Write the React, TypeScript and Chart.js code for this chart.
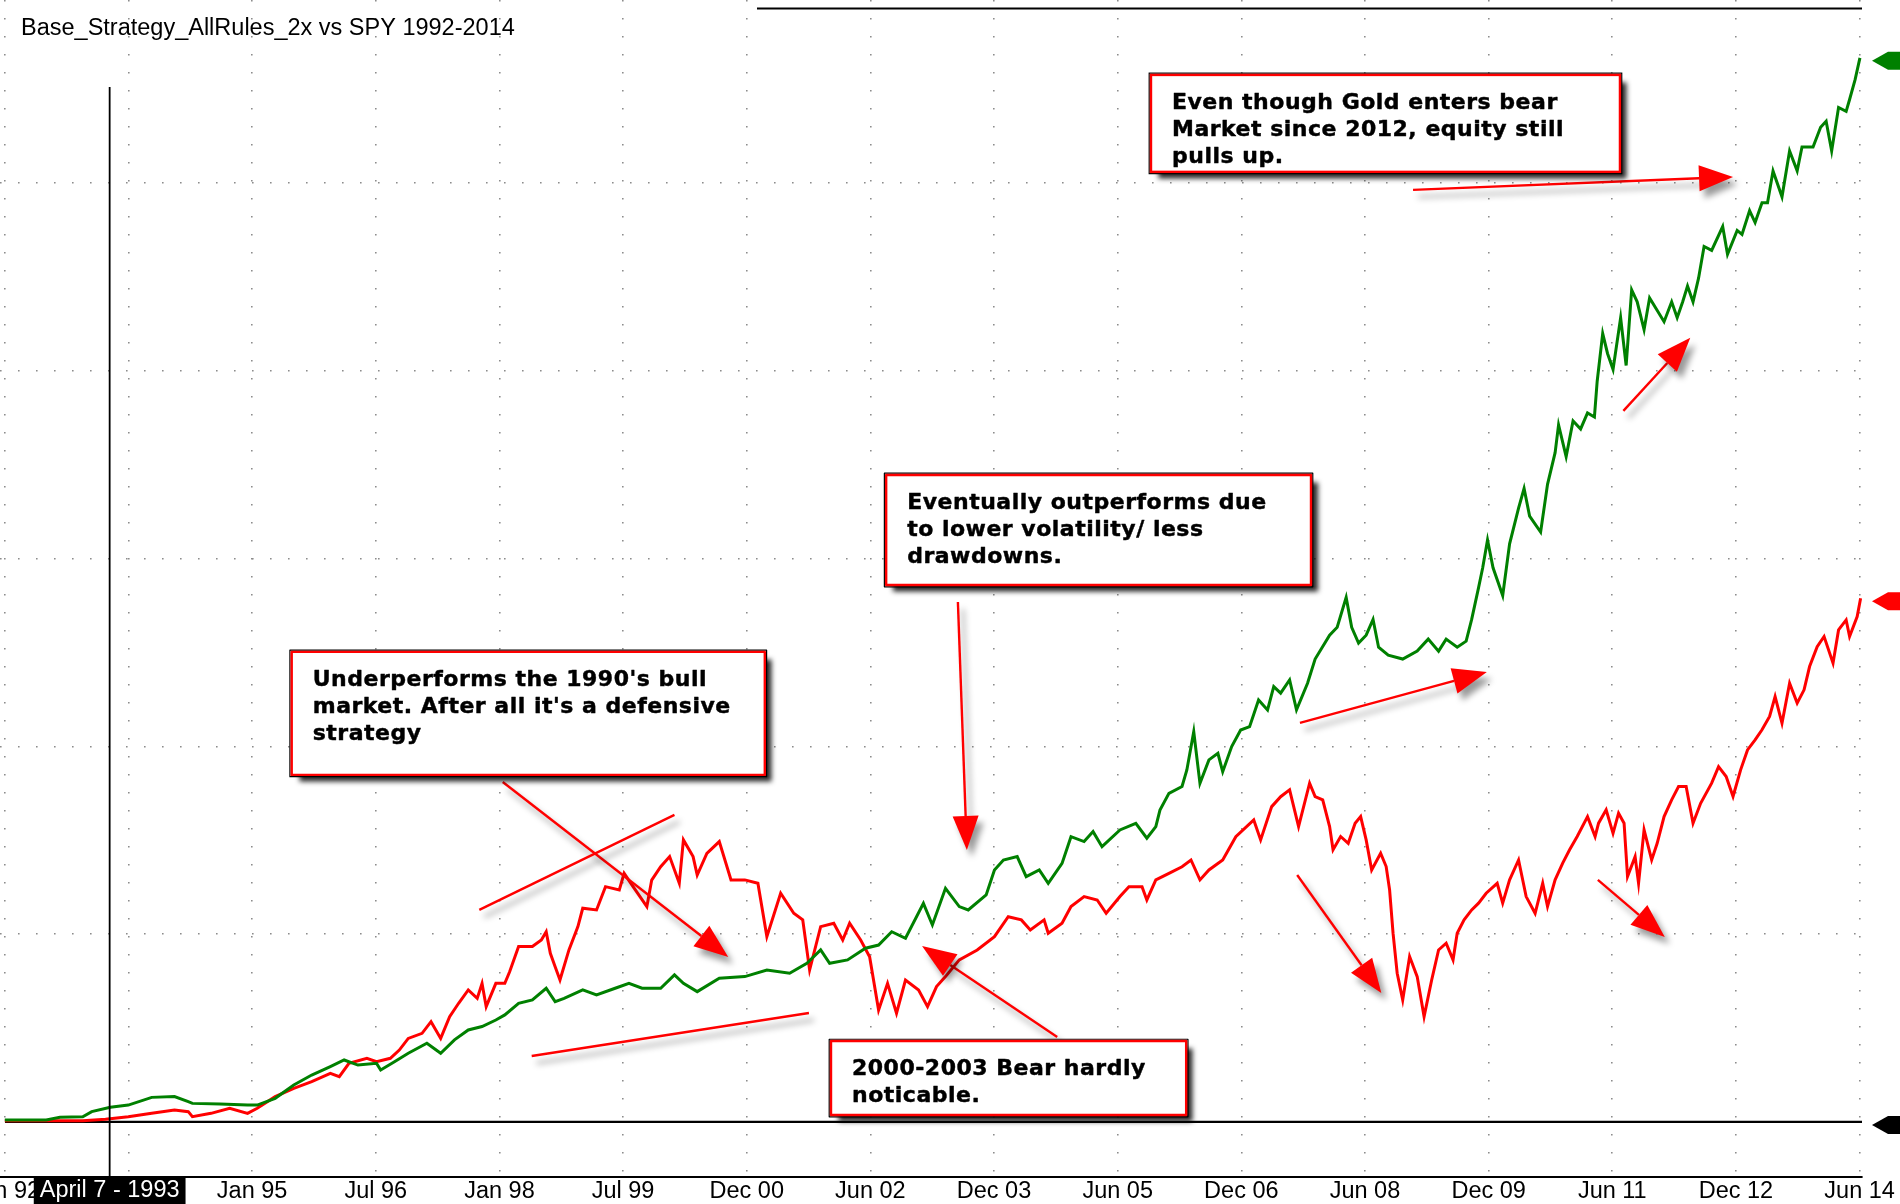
import { useEffect, useRef } from "react";
import { Chart, registerables } from "chart.js";

Chart.register(...registerables);

// x = months since Jan 1992, y = equity gain (one grid step = 100)
const TITLE = "Base_Strategy_AllRules_2x vs SPY 1992-2014";

const tickLabels = [
  "Jan 92", "Jul 93", "Jan 95", "Jul 96", "Jan 98", "Jul 99", "Dec 00", "Jun 02",
  "Dec 03", "Jun 05", "Dec 06", "Jun 08", "Dec 09", "Jun 11", "Dec 12", "Jun 14",
];
const TICK_STEP = 17.93; // bar-count spacing of the date labels, in months
const gridValues = [0, 100, 200, 300, 400, 500];

const cursorMonth = 15.2;
const cursorLabel = "April 7 - 1993";

const strategy1992 = [
  [0, 1.1], [6, 1.1], [8, 2.5], [11.3, 2.8], [12.6, 5.5], [15.3, 7.8], [17.9, 9.0], [21.3, 13.1],
  [24.6, 13.5], [26.6, 10.8], [27.2, 9.9], [31.2, 9.6], [35.2, 9.0], [36.6, 9.0], [39.2, 12.6],
  [41.9, 19.7], [44.5, 25.0], [47.2, 29.5], [49.2, 33.0], [51.2, 30.3], [53.9, 31.2], [54.5, 27.7],
  [56.5, 32.1], [58.5, 36.6], [61.2, 41.9], [63.2, 36.6], [65.2, 43.7], [67.2, 49.0], [69.2, 50.8],
  [71.2, 54.3], [72.5, 57.0], [74.5, 63.2], [76.5, 65.0], [78.5, 71.2], [79.8, 64.1], [81.1, 65.8],
  [83.8, 70.3], [85.8, 67.6], [88.5, 71.2], [90.5, 73.8], [92.4, 71.2], [95.1, 71.2], [97.1, 78.3],
  [98.4, 73.8], [100.4, 69.4], [103.6, 76.5],
];
const strategy2001 = [
  [107.3, 77.4], [110.5, 80.9], [113.8, 79.2], [116.3, 84.5], [118.3, 91.6], [119.6, 84.5],
  [122.2, 86.3], [124.8, 92.5], [126.7, 94.2], [128.6, 101.3], [130.6, 97.8], [133.2, 116.4],
  [134.5, 104.9], [136.4, 124.4], [138.4, 114.7], [139.7, 112.9], [142.3, 120.9], [143.5, 134.2],
  [144.8, 139.5], [146.8, 141.3], [148.1, 130.6], [150.0, 134.2], [151.3, 127.1], [153.3, 137.7],
  [154.6, 151.9], [156.5, 149.3], [157.8, 154.6], [159.1, 146.6], [161.7, 155.5], [164.0, 159.0],
  [165.6, 151.1], [166.9, 157.3], [167.5, 166.1], [168.8, 175.0], [170.7, 178.6], [171.4, 187.4],
  [172.4, 207.8], [173.3, 180.3], [174.6, 192.8], [175.9, 196.3], [176.6, 186.5], [177.9, 199.9],
  [179.2, 208.7], [180.5, 210.5], [181.8, 224.7], [183.1, 219.4], [184.0, 231.8], [185.0, 228.3],
  [186.3, 235.4], [187.3, 219.4], [188.9, 233.6],
];
const strategy2007 = [
  [190.0, 246.5], [192.1, 259.2], [193.2, 263.4], [194.5, 279.3], [195.3, 263.4], [196.3, 255.0],
  [197.4, 259.2], [198.4, 267.6], [199.2, 252.8], [200.6, 248.6], [202.7, 246.5], [204.8, 250.7],
  [206.4, 257.1], [207.9, 250.7], [209.0, 257.1], [210.6, 252.8], [211.9, 256.0], [212.7, 267.6],
  [213.7, 284.5], [214.3, 295.1], [215.0, 309.9], [215.8, 295.1], [217.2, 280.3], [218.2, 307.8],
  [219.5, 326.8], [220.3, 337.3], [221.1, 322.6], [222.7, 314.1], [223.7, 339.5], [224.8, 356.4],
  [225.3, 371.2], [226.4, 354.3], [227.4, 373.3], [228.5, 369.0], [229.5, 377.5], [230.5, 375.4],
  [230.9, 394.4], [231.7, 419.8], [232.4, 409.2], [233.2, 400.7], [234.3, 428.2], [235.1, 402.8],
  [235.9, 443.0], [236.7, 436.7], [237.7, 421.9], [238.5, 438.8], [240.6, 426.1], [241.7, 436.7],
  [242.5, 428.2], [243.3, 436.7], [244.0, 445.1], [244.8, 436.7], [245.6, 449.3], [246.4, 466.2],
  [247.5, 464.1], [249.1, 476.8], [249.8, 462.0], [251.2, 474.7], [251.9, 472.6], [253.0, 485.2],
  [253.8, 478.9], [254.8, 489.5], [255.6, 489.5], [256.4, 506.4], [257.7, 492.6], [258.8, 517.0],
  [259.9, 506.4], [260.6, 519.1], [262.2, 519.1], [263.3, 529.6], [264.1, 532.8], [264.9, 517.0],
  [265.9, 540.2], [267.0, 538.1], [267.5, 544.4], [268.3, 555.0], [269.0, 566.6],
];

const spy1992 = [
  [0, 0.7], [11.3, 0.7], [14.6, 1.4], [17.9, 2.8], [21.3, 4.6], [24.6, 6.4], [26.6, 5.5], [27.2, 2.8],
  [29.9, 4.6], [32.6, 7.3], [35.2, 4.6], [36.6, 7.3], [39.2, 13.5], [41.9, 17.9], [44.5, 21.5],
  [47.2, 25.9], [48.5, 24.1], [49.9, 31.2], [52.5, 33.9], [53.9, 32.1], [55.9, 33.9], [57.2, 38.3],
  [58.5, 44.5], [60.5, 47.2], [61.8, 53.4], [63.2, 44.5], [64.5, 56.1], [65.8, 63.2], [67.2, 70.3],
  [68.5, 65.8], [69.2, 73.8], [69.8, 61.4], [71.2, 73.8], [72.5, 73.8], [73.2, 80.0], [74.5, 93.4],
  [76.5, 93.4], [77.8, 96.9], [78.5, 101.3], [79.1, 89.8], [79.8, 82.7], [80.5, 75.6], [81.8, 91.6],
  [83.1, 104.0], [83.8, 113.8], [85.8, 112.9], [87.1, 125.3], [89.1, 123.5], [89.8, 132.4],
  [91.1, 125.3], [93.1, 114.7], [93.8, 128.8], [95.1, 135.9], [96.4, 141.3], [97.8, 127.1],
  [98.4, 150.2], [99.8, 141.3], [100.4, 131.5], [101.8, 143.0], [103.6, 149.3],
];
const spy2001 = [
  [105.3, 128.9], [107.3, 128.9], [109.2, 127.1], [110.5, 98.7], [112.5, 121.8], [114.4, 111.1],
  [115.7, 107.6], [116.7, 80.9], [118.3, 104.0], [120.2, 105.8], [121.5, 96.9], [122.5, 105.8],
  [124.1, 96.9], [125.4, 88.0], [126.7, 59.6], [128.0, 73.8], [129.3, 57.9], [130.6, 75.6],
  [132.5, 70.3], [133.8, 61.4], [135.1, 72.1], [136.4, 77.4], [138.4, 86.3], [141.0, 91.6],
  [143.5, 98.7], [145.5, 109.3], [147.4, 107.6], [148.7, 102.2], [150.7, 107.6], [151.3, 100.5],
  [153.3, 105.8], [154.6, 114.7], [156.5, 120.0], [158.4, 118.2], [159.7, 111.1], [161.7, 120.0],
  [163.0, 125.3], [164.9, 125.3], [165.6, 118.2], [166.9, 128.9], [168.8, 132.4], [170.7, 135.9],
  [172.0, 139.5], [173.3, 128.9], [174.6, 134.2], [176.6, 139.5], [178.5, 151.9], [181.1, 160.8],
  [182.1, 150.2], [183.7, 167.9], [185.0, 173.2], [186.3, 176.8], [187.6, 157.3],
];
const spy2007 = [
  [189.2, 180.4], [190.0, 173.3], [191.1, 171.5], [192.1, 157.3], [192.6, 144.9], [193.7, 152.0],
  [194.8, 148.4], [195.8, 159.1], [196.6, 162.6], [197.4, 150.2], [198.2, 134.2], [199.5, 143.1],
  [200.3, 136.0], [200.8, 123.6], [201.3, 100.5], [201.9, 79.2], [202.7, 65.0], [203.7, 88.1],
  [204.8, 77.4], [205.8, 56.1], [206.9, 75.6], [207.9, 91.6], [209.0, 95.2], [210.0, 86.3],
  [210.6, 100.5], [211.6, 107.6], [212.7, 112.9], [213.7, 116.5], [214.8, 121.8], [216.4, 127.1],
  [217.2, 116.5], [218.2, 128.9], [219.5, 139.5], [220.6, 120.0], [221.9, 111.1], [223.0, 127.1],
  [223.7, 114.7], [224.8, 128.9], [225.9, 137.8], [226.9, 144.9], [228.0, 152.0], [229.5, 162.6],
  [230.6, 152.0], [231.1, 159.1], [232.2, 166.2], [233.2, 153.7], [234.0, 164.4], [234.8, 159.1],
  [235.3, 130.7], [236.4, 141.3], [236.9, 127.1], [237.7, 155.5], [238.8, 139.5], [239.6, 148.4],
  [240.6, 162.6], [241.7, 171.5], [242.7, 178.6], [243.8, 178.6], [244.8, 159.1], [245.9, 169.7],
  [247.5, 180.4], [248.5, 189.2], [249.6, 183.9], [250.6, 173.3], [251.7, 187.5], [252.7, 198.1],
  [253.8, 203.4], [254.8, 208.8], [255.9, 215.9], [256.7, 226.5], [257.7, 212.3], [258.8, 233.6],
  [259.9, 223.0], [260.9, 230.1], [261.7, 242.5], [262.8, 253.1], [263.8, 258.5], [265.1, 244.3],
  [265.9, 262.0], [267.0, 267.3], [267.5, 258.5], [268.6, 269.1], [269.1, 278.9],
];

const strategy = [...strategy1992, ...strategy2001, ...strategy2007];
const spy = [...spy1992, ...spy2001, ...spy2007];

// callouts, placed in chart units (month, gain)
const callouts = [
  { m0: 166.2, m1: 234.2, top: 557.5, bottom: 505.9,
    lines: ["Even though Gold enters bear", "Market since 2012, equity still", "pulls up."] },
  { m0: 127.8, m1: 189.4, top: 344.5, bottom: 285.9,
    lines: ["Eventually outperforms due", "to lower volatility/ less", "drawdowns."] },
  { m0: 41.6, m1: 110.2, top: 250.3, bottom: 184.8,
    lines: ["Underperforms the 1990's bull", "market. After all it's a defensive", "strategy"] },
  { m0: 119.8, m1: 171.3, top: 43.1, bottom: 3.7,
    lines: ["2000-2003 Bear hardly", "noticable."] },
];

const pointers = [
  { from: [204.2, 496.3], to: [250.6, 503.2], head: true },
  { from: [234.7, 378.6], to: [244.4, 417.5], head: true },
  { from: [187.8, 212.5], to: [214.9, 239.6], head: true },
  { from: [138.2, 276.9], to: [139.5, 144.8], head: true },
  { from: [152.6, 45.3], to: [133.0, 93.7], head: true },
  { from: [72.2, 181.0], to: [104.9, 87.9], head: true },
  { from: [68.8, 112.9], to: [97.1, 163.5], head: false },
  { from: [76.4, 35.1], to: [116.6, 58.0], head: false },
  { from: [187.4, 131.5], to: [199.6, 68.7], head: true },
  { from: [231.0, 128.9], to: [240.7, 98.5], head: true },
];

const GREEN = "#008000";
const RED = "#ff0000";
const LABEL_FONT = "23.5px 'Liberation Sans', Arial, sans-serif";
const NOTE_FONT = "bold 22px 'DejaVu Sans', Verdana, sans-serif";

function drawPointer(ctx: CanvasRenderingContext2D, x1: number, y1: number, x2: number, y2: number, head: boolean) {
  const ang = Math.atan2(y2 - y1, x2 - x1);
  const len = 34;
  const half = 13;
  const bx = head ? x2 - Math.cos(ang) * len : x2;
  const by = head ? y2 - Math.sin(ang) * len : y2;
  ctx.save();
  ctx.shadowColor = "rgba(0,0,0,0.4)";
  ctx.shadowBlur = 6;
  ctx.shadowOffsetX = 5;
  ctx.shadowOffsetY = 7;
  ctx.strokeStyle = RED;
  ctx.fillStyle = RED;
  ctx.lineWidth = 2.4;
  ctx.beginPath();
  ctx.moveTo(x1, y1);
  ctx.lineTo(bx, by);
  ctx.stroke();
  if (head) {
    const nx = -Math.sin(ang) * half;
    const ny = Math.cos(ang) * half;
    ctx.beginPath();
    ctx.moveTo(x2, y2);
    ctx.lineTo(bx + nx, by + ny);
    ctx.lineTo(bx - nx, by - ny);
    ctx.closePath();
    ctx.fill();
  }
  ctx.restore();
}

const decorations = {
  id: "decorations",
  beforeDatasetsDraw(chart: Chart) {
    const { ctx, chartArea, scales } = chart;
    const y0 = scales.y.getPixelForValue(0);
    ctx.save();
    ctx.strokeStyle = "#000";
    ctx.lineWidth = 2.2;
    ctx.beginPath();
    ctx.moveTo(chartArea.left + 5, y0);
    ctx.lineTo(chartArea.right, y0);
    ctx.stroke();
    ctx.restore();
  },
  afterDraw(chart: Chart) {
    const { ctx, chartArea, scales, width, height } = chart;
    const xs = scales.x;
    const ys = scales.y;
    ctx.save();

    // pane separator at the top
    ctx.strokeStyle = "#000";
    ctx.lineWidth = 2;
    ctx.beginPath();
    ctx.moveTo(757, chartArea.top + 8.5);
    ctx.lineTo(chartArea.right, chartArea.top + 8.5);
    ctx.stroke();

    // cursor line
    const cx = xs.getPixelForValue(cursorMonth);
    ctx.lineWidth = 1.8;
    ctx.beginPath();
    ctx.moveTo(cx, chartArea.top + 87);
    ctx.lineTo(cx, height);
    ctx.stroke();

    // last value markers on the right edge
    const markers: [number, string][] = [
      [strategy[strategy.length - 1][1], GREEN],
      [spy[spy.length - 1][1], RED],
      [0, "#000"],
    ];
    for (const [v, col] of markers) {
      const y = ys.getPixelForValue(v) + 3;
      const r = chartArea.right;
      ctx.fillStyle = col;
      ctx.beginPath();
      ctx.moveTo(r + 10, y);
      ctx.lineTo(r + 26, y - 9);
      ctx.lineTo(width, y - 9);
      ctx.lineTo(width, y + 9);
      ctx.lineTo(r + 26, y + 9);
      ctx.closePath();
      ctx.fill();
    }

    // pointers
    for (const p of pointers) {
      drawPointer(
        ctx,
        xs.getPixelForValue(p.from[0]), ys.getPixelForValue(p.from[1]),
        xs.getPixelForValue(p.to[0]), ys.getPixelForValue(p.to[1]),
        p.head,
      );
    }

    // callout boxes
    for (const c of callouts) {
      const x = xs.getPixelForValue(c.m0);
      const y = ys.getPixelForValue(c.top);
      const w = xs.getPixelForValue(c.m1) - x;
      const h = ys.getPixelForValue(c.bottom) - y;
      ctx.save();
      ctx.shadowColor = "rgba(0,0,0,0.85)";
      ctx.shadowBlur = 5;
      ctx.shadowOffsetX = 7;
      ctx.shadowOffsetY = 7;
      ctx.fillStyle = "#fff";
      ctx.fillRect(x, y, w, h);
      ctx.restore();
      ctx.strokeStyle = "#000";
      ctx.lineWidth = 1.2;
      ctx.strokeRect(x - 1.8, y - 1.8, w + 3.6, h + 3.6);
      ctx.strokeStyle = RED;
      ctx.lineWidth = 2.4;
      ctx.strokeRect(x, y, w, h);
      ctx.fillStyle = "#000";
      ctx.strokeStyle = "#000";
      ctx.lineWidth = 0.45;
      ctx.lineJoin = "round";
      ctx.font = NOTE_FONT;
      (ctx as any).letterSpacing = "0.5px";
      ctx.textAlign = "left";
      ctx.textBaseline = "middle";
      c.lines.forEach((t, i) => {
        ctx.fillText(t, x + 21, y + 28 + i * 27.3);
        ctx.strokeText(t, x + 21, y + 28 + i * 27.3);
      });
      (ctx as any).letterSpacing = "0px";
    }

    // title
    ctx.fillStyle = "#000";
    ctx.font = LABEL_FONT;
    ctx.textAlign = "left";
    ctx.textBaseline = "middle";
    ctx.fillText(TITLE, 21, 29);

    // cursor date box
    ctx.font = LABEL_FONT;
    const tw = ctx.measureText(cursorLabel).width + 12;
    ctx.fillStyle = "#000";
    ctx.fillRect(cx - tw / 2, chartArea.bottom + 1, tw, height - chartArea.bottom - 1);
    ctx.fillStyle = "#fff";
    ctx.textAlign = "center";
    ctx.fillText(cursorLabel, cx, chartArea.bottom + 14);

    ctx.restore();
  },
};

export default function App() {
  const canvasRef = useRef<HTMLCanvasElement | null>(null);

  useEffect(() => {
    if (!canvasRef.current) return;

    const chart = new Chart(canvasRef.current, {
      type: "line",
      data: {
        datasets: [
          {
            label: "Base_Strategy_AllRules_2x",
            data: strategy.map(([x, y]) => ({ x, y })),
            borderColor: GREEN,
            borderWidth: 3,
            pointRadius: 0,
            tension: 0,
          },
          {
            label: "SPY",
            data: spy.map(([x, y]) => ({ x, y })),
            borderColor: RED,
            borderWidth: 3,
            pointRadius: 0,
            tension: 0,
          },
        ],
      },
      options: {
        animation: false,
        responsive: false,
        layout: { padding: { left: 0, right: 38, top: 0, bottom: 0 } },
        plugins: {
          legend: { display: false },
          tooltip: { enabled: false },
        },
        scales: {
          x: {
            type: "linear",
            min: -0.7,
            max: 269.3,
            afterBuildTicks: (s: any) => {
              s.ticks = tickLabels.map((_, i) => ({ value: i * TICK_STEP }));
            },
            afterFit: (s: any) => {
              s.paddingLeft = 0;
              s.paddingRight = 0;
              s.height = 27;
            },
            ticks: {
              autoSkip: false,
              maxRotation: 0,
              padding: 0,
              color: "#000",
              font: { family: "'Liberation Sans', Arial, sans-serif", size: 23.5 },
              callback: (_v: any, i: number) => tickLabels[i],
            },
            grid: { color: "#8c8c8c", lineWidth: 1.6, drawTicks: false },
            border: { display: true, color: "#000", width: 2, dash: [1.6, 16.4] },
          },
          y: {
            type: "linear",
            min: -29.3,
            max: 597.4,
            afterBuildTicks: (s: any) => {
              s.ticks = gridValues.map((v) => ({ value: v }));
            },
            afterFit: (s: any) => {
              s.width = 0;
            },
            ticks: { display: false },
            grid: {
              color: (c: any) => (c.tick && c.tick.value === 0 ? "rgba(0,0,0,0)" : "#8c8c8c"),
              lineWidth: 1.6,
              drawTicks: false,
            },
            border: { display: false, dash: [1.6, 16.4] },
          },
        },
      },
      plugins: [decorations],
    });

    return () => chart.destroy();
  }, []);

  return (
    <div style={{ position: "fixed", left: 0, top: 0, width: 1900, height: 1204, background: "#fff" }}>
      <canvas ref={canvasRef} width={1900} height={1204} />
    </div>
  );
}
